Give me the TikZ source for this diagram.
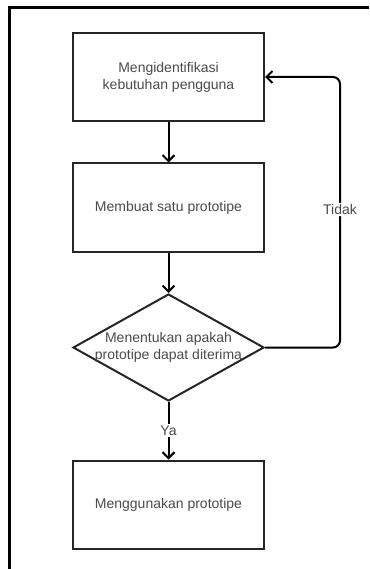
\documentclass[tikz,border=0pt]{standalone}
\usepackage{fontspec}
\setmainfont{Liberation Sans}
\usetikzlibrary{arrows.meta,shapes.geometric}
\definecolor{txt}{HTML}{4A4A4A}
\begin{document}
\begin{tikzpicture}[x=1pt,y=-1pt,
  every node/.style={font=\fontsize{14}{17}\selectfont, text=txt},
  procbox/.style={draw=black!85, line width=2pt, minimum width=191pt, minimum height=88pt, inner sep=0pt, align=center},
  decision/.style={draw=black!85, line width=2pt, diamond, aspect=1.785, minimum width=191pt, minimum height=107pt, inner sep=0pt, align=center},
  flow/.style={line width=2pt, -{Straight Barb[length=6pt,width=12pt,line width=2pt]}},
  lbl/.style={fill=white, inner sep=1.5pt}]
\useasboundingbox (0,0) rectangle (369,569);
\draw[line width=3pt] (9.5,569) -- (9.5,7.5) -- (369,7.5);
\node[procbox] (b1) at (168.5,77) {Mengidentifikasi\\kebutuhan pengguna};
\node[procbox] (b2) at (168.5,207.5) {Membuat satu prototipe};
\node[decision] (d) at (168.5,347.5) {\makebox[0pt]{Menentukan apakah}\\\makebox[0pt]{prototipe dapat diterima}};
\node[procbox] (b4) at (168.5,504.5) {Menggunakan prototipe};
\coordinate (r) at (340,0);
\draw[flow] (b1) -- (b2);
\draw[flow] (b2) -- (d);
\draw[flow] (d.south) -- node[lbl] {Ya} (b4.north);
\draw[flow, rounded corners=7pt] (d.east) -- (d.east -| r) -- node[lbl, pos=0.51] {Tidak} (b1.east -| r) -- (b1.east);
\end{tikzpicture}
\end{document}
